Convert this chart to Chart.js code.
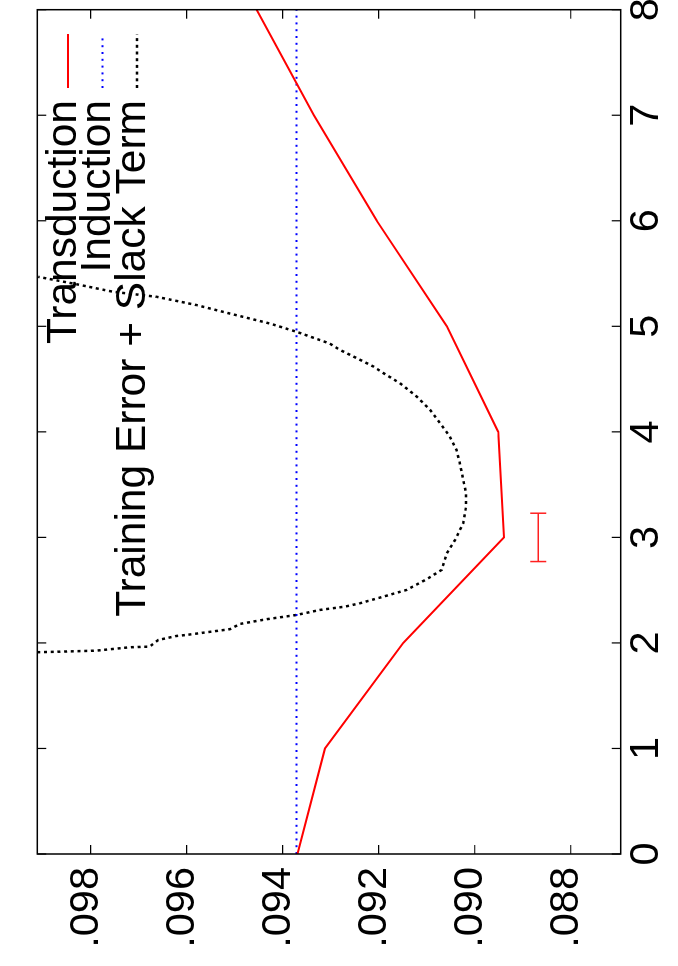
<!DOCTYPE html>
<html>
<head>
<meta charset="utf-8">
<script src="https://cdn.jsdelivr.net/npm/chart.js@4"></script>
<style>
  html, body { margin: 0; padding: 0; background: #fff; overflow: hidden; }
  #wrap {
    position: absolute; left: 0; top: 0;
    width: 966px; height: 678px;
    transform-origin: 0 0;
    transform: translate(0, 966px) rotate(-90deg);
  }
</style>
</head>
<body>
<div id="wrap"><canvas id="chart" width="966" height="678"></canvas></div>
<script>
// x axis ticks / y axis ticks
var xTicks = [0, 1, 2, 3, 4, 5, 6, 7, 8];
var yTicks = [0.088, 0.090, 0.092, 0.094, 0.096, 0.098];
var yTickLabels = ['.088', '.090', '.092', '.094', '.096', '.098'];

// Transduction
var transX = [0, 1, 2, 3, 4, 5, 6, 7, 8];
var transY = [0.09369, 0.09312, 0.09149, 0.08939, 0.08951, 0.09058, 0.09204, 0.09335, 0.09454];

// Induction
var indX = [0, 8];
var indY = [0.09371, 0.09371];

// Training Error + Slack Term
var trainX = [1.912, 1.918, 1.927, 1.959, 1.965, 2.028, 2.066, 2.076, 2.130, 2.180,
              2.225, 2.265, 2.313, 2.344, 2.376, 2.439, 2.502, 2.604, 2.692, 2.850,
              2.976, 3.135, 3.292, 3.419, 3.545, 3.703, 3.829, 3.955, 4.082, 4.209,
              4.335, 4.462, 4.556, 4.619, 4.699, 4.777, 4.837, 4.948, 5.027, 5.121,
              5.201, 5.280, 5.327, 5.405, 5.469];
var trainY = [0.09911, 0.09857, 0.09788, 0.09718, 0.09677, 0.09659, 0.09621, 0.09600, 0.09510, 0.09489,
              0.09433, 0.09371, 0.09322, 0.09270, 0.09239, 0.09190, 0.09142, 0.09100, 0.09069, 0.09058,
              0.09041, 0.09024, 0.09018, 0.09018, 0.09024, 0.09031, 0.09038, 0.09052, 0.09072, 0.09093,
              0.09121, 0.09156, 0.09190, 0.09211, 0.09246, 0.09281, 0.09302, 0.09371, 0.09427, 0.09510,
              0.09579, 0.09663, 0.09753, 0.09836, 0.09909];

// error bar (horizontal)
var errX = [3];
var errLo = [2.771];
var errHi = [3.229];
var errY = [0.088675];

function pts(xs, ys) {
    return xs.map(function (x, i) { return { x: x, y: ys[i] }; });
}

var TICK_FONT = '41.5px "Liberation Sans", Arial, sans-serif';
var KEY_FONT = '42.5px "Liberation Sans", Arial, sans-serif';

var legendItems = [
    { text: 'Transduction', color: '#ff0000', dash: [], width: 2 },
    { text: 'Induction', color: '#0000ff', dash: [2, 4.8], width: 2 },
    { text: 'Training Error + Slack Term', color: '#000000', dash: [3, 3.7], width: 2.5 }
];

var framePlugin = {
    id: 'frame',
    afterDraw: function (chart) {
        var ctx = chart.ctx;
        var a = chart.chartArea;
        var xs = chart.scales.x, ys = chart.scales.y;
        ctx.save();
        ctx.strokeStyle = '#000';
        ctx.lineWidth = 1.5;
        ctx.strokeRect(a.left, a.top, a.right - a.left, a.bottom - a.top);

        ctx.lineWidth = 1.2;
        ctx.beginPath();
        xTicks.forEach(function (v) {
            var p = xs.getPixelForValue(v);
            ctx.moveTo(p, a.bottom); ctx.lineTo(p, a.bottom - 9);
            ctx.moveTo(p, a.top); ctx.lineTo(p, a.top + 9);
        });
        yTicks.forEach(function (v) {
            var p = ys.getPixelForValue(v);
            ctx.moveTo(a.left, p); ctx.lineTo(a.left + 9, p);
            ctx.moveTo(a.right, p); ctx.lineTo(a.right - 9, p);
        });
        ctx.stroke();

        ctx.fillStyle = '#000';
        ctx.font = TICK_FONT;
        ctx.textAlign = 'center';
        ctx.textBaseline = 'alphabetic';
        xTicks.forEach(function (v) {
            ctx.fillText(String(v), xs.getPixelForValue(v), a.bottom + 37.5);
        });
        ctx.textAlign = 'right';
        yTicks.forEach(function (v, i) {
            ctx.fillText(yTickLabels[i], a.left - 13, ys.getPixelForValue(v) + 7.5);
        });

        // key
        ctx.font = KEY_FONT;
        var textRight = 866, lineL = 878, lineR = 932;
        legendItems.forEach(function (it, i) {
            var y = 68 + i * 34.5;
            ctx.fillStyle = '#000';
            ctx.fillText(it.text, textRight, y + 7.5);
            ctx.strokeStyle = it.color;
            ctx.lineWidth = it.width;
            ctx.setLineDash(it.dash);
            ctx.beginPath();
            ctx.moveTo(lineL, y); ctx.lineTo(lineR, y);
            ctx.stroke();
            ctx.setLineDash([]);
        });
        ctx.restore();
    }
};

var errPts = [];
errX.forEach(function (x, i) {
    errPts.push({ x: errLo[i], y: errY[i] });
    errPts.push({ x: errHi[i], y: errY[i] });
});

new Chart(document.getElementById('chart').getContext('2d'), {
    type: 'scatter',
    data: {
        datasets: [
            {
                label: 'Transduction',
                data: pts(transX, transY),
                showLine: true,
                borderColor: '#ff0000',
                borderWidth: 2,
                pointRadius: 0
            },
            {
                label: 'Induction',
                data: pts(indX, indY),
                showLine: true,
                borderColor: '#0000ff',
                borderWidth: 2,
                borderDash: [2, 4.8],
                pointRadius: 0
            },
            {
                label: 'Training Error + Slack Term',
                data: pts(trainX, trainY),
                showLine: true,
                borderColor: '#000000',
                borderWidth: 2.5,
                borderDash: [3, 3.7],
                pointRadius: 0
            },
            {
                label: 'error',
                data: errPts,
                showLine: true,
                borderColor: '#ff2020',
                borderWidth: 1.5,
                pointStyle: 'line',
                pointRotation: 90,
                pointRadius: 8,
                pointBorderColor: '#ff2020',
                pointBorderWidth: 1.5,
                pointBackgroundColor: '#ff2020'
            }
        ]
    },
    options: {
        responsive: false,
        animation: false,
        layout: { padding: { left: 112, right: 9.7, top: 37.3, bottom: 57.3 } },
        scales: {
            x: { type: 'linear', min: 0, max: 8, display: false },
            y: { type: 'linear', min: 0.08696, max: 0.09911, display: false }
        },
        plugins: {
            legend: { display: false },
            tooltip: { enabled: false }
        }
    },
    plugins: [framePlugin]
});
</script>
</body>
</html>
